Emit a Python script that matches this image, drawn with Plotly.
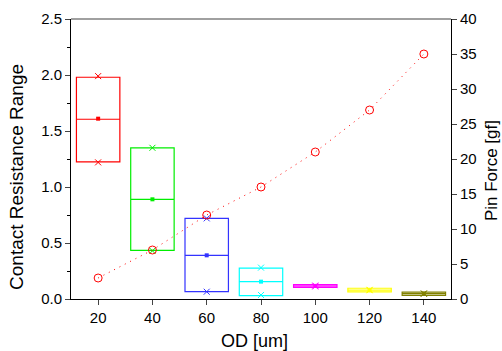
import plotly.graph_objects as go

od = [20, 40, 60, 80, 100, 120, 140]
cr_max = [1.98, 1.35, 0.72, 0.275, 0.129, 0.096, 0.062]
cr_median = [1.605, 0.89, 0.39, 0.155, 0.116, 0.08, 0.048]
cr_mean = [1.61, 0.89, 0.39, 0.155, 0.117, 0.08, 0.048]
cr_min = [1.225, 0.435, 0.065, 0.03, 0.103, 0.063, 0.033]
cr_xmax = [1.99, 1.35, 0.72, 0.28, 0.12, 0.082, 0.05]
cr_xmin = [1.22, 0.43, 0.065, 0.036, 0.112, 0.078, 0.046]
pin_force = [3, 7, 12, 16, 21, 27, 35]
colors = ["#FF0000", "#00EE00", "#3333FF", "#00FFFF", "#FF00FF", "#FFFF00", "#808000"]

fig = go.Figure()
for i, x in enumerate(od):
    c = colors[i]
    fig.add_trace(go.Box(
        x=[x], q1=[cr_min[i]], median=[cr_median[i]], q3=[cr_max[i]],
        lowerfence=[cr_min[i]], upperfence=[cr_max[i]],
        width=16, line=dict(color=c, width=1.2), fillcolor="rgba(0,0,0,0)",
        boxpoints=False, showlegend=False, hoverinfo="skip"))
    fig.add_trace(go.Scatter(
        x=[x, x], y=[cr_xmax[i], cr_xmin[i]], mode="markers",
        marker=dict(symbol="x-thin", size=6, line=dict(color=c, width=1)),
        showlegend=False, hoverinfo="skip"))
    fig.add_trace(go.Scatter(
        x=[x], y=[cr_mean[i]], mode="markers",
        marker=dict(symbol="square", size=4, color=c),
        showlegend=False, hoverinfo="skip"))

fig.add_trace(go.Scatter(
    x=od, y=pin_force, yaxis="y2", mode="lines+markers",
    line=dict(color="#FF0000", width=1, dash="1px,5px"),
    marker=dict(symbol="circle-open", size=8, color="#FF0000", line=dict(width=1)),
    showlegend=False))

font = "Liberation Sans, Arial, sans-serif"
fig.update_layout(
    width=502, height=351,
    margin=dict(l=71, r=51, t=19, b=52),
    plot_bgcolor="white", paper_bgcolor="white",
    font=dict(family=font, size=15, color="black"),
    xaxis=dict(range=[10, 150], tickvals=od, ticks="outside", ticklen=5, automargin=False,
               showgrid=False, zeroline=False, showline=True, linecolor="black"),
    yaxis=dict(range=[0, 2.5], dtick=0.5, tickformat=".1f", ticks="outside", ticklen=5,
               automargin=False,
               minor=dict(ticks="outside", ticklen=3, dtick=0.25, tickcolor="black"),
               showgrid=False, zeroline=False, showline=True, linecolor="black"),
    yaxis2=dict(range=[0, 40], dtick=5, overlaying="y", side="right", ticks="outside",
                ticklen=5, automargin=False,
                showgrid=False, zeroline=False, showline=True, linecolor="black"),
    shapes=[dict(type="line", xref="paper", yref="paper", x0=0, x1=1, y0=1, y1=1,
                 line=dict(color="#808080", width=1.5))],
    annotations=[
        dict(text="Contact Resistance Range", xref="paper", yref="paper",
             x=-0.142, y=0.436, textangle=-90, showarrow=False,
             xanchor="center", yanchor="middle", font=dict(size=19)),
        dict(text="Pin Force [gf]", xref="paper", yref="paper",
             x=1.105, y=0.46, textangle=-90, showarrow=False,
             xanchor="center", yanchor="middle", font=dict(size=17)),
        dict(text="OD [um]", xref="paper", yref="paper",
             x=0.482, y=-0.15, showarrow=False,
             xanchor="center", yanchor="middle", font=dict(size=18)),
    ],
)
fig.write_html("out.html", config={"displayModeBar": False},
               post_script="document.body.style.margin='0px';")
